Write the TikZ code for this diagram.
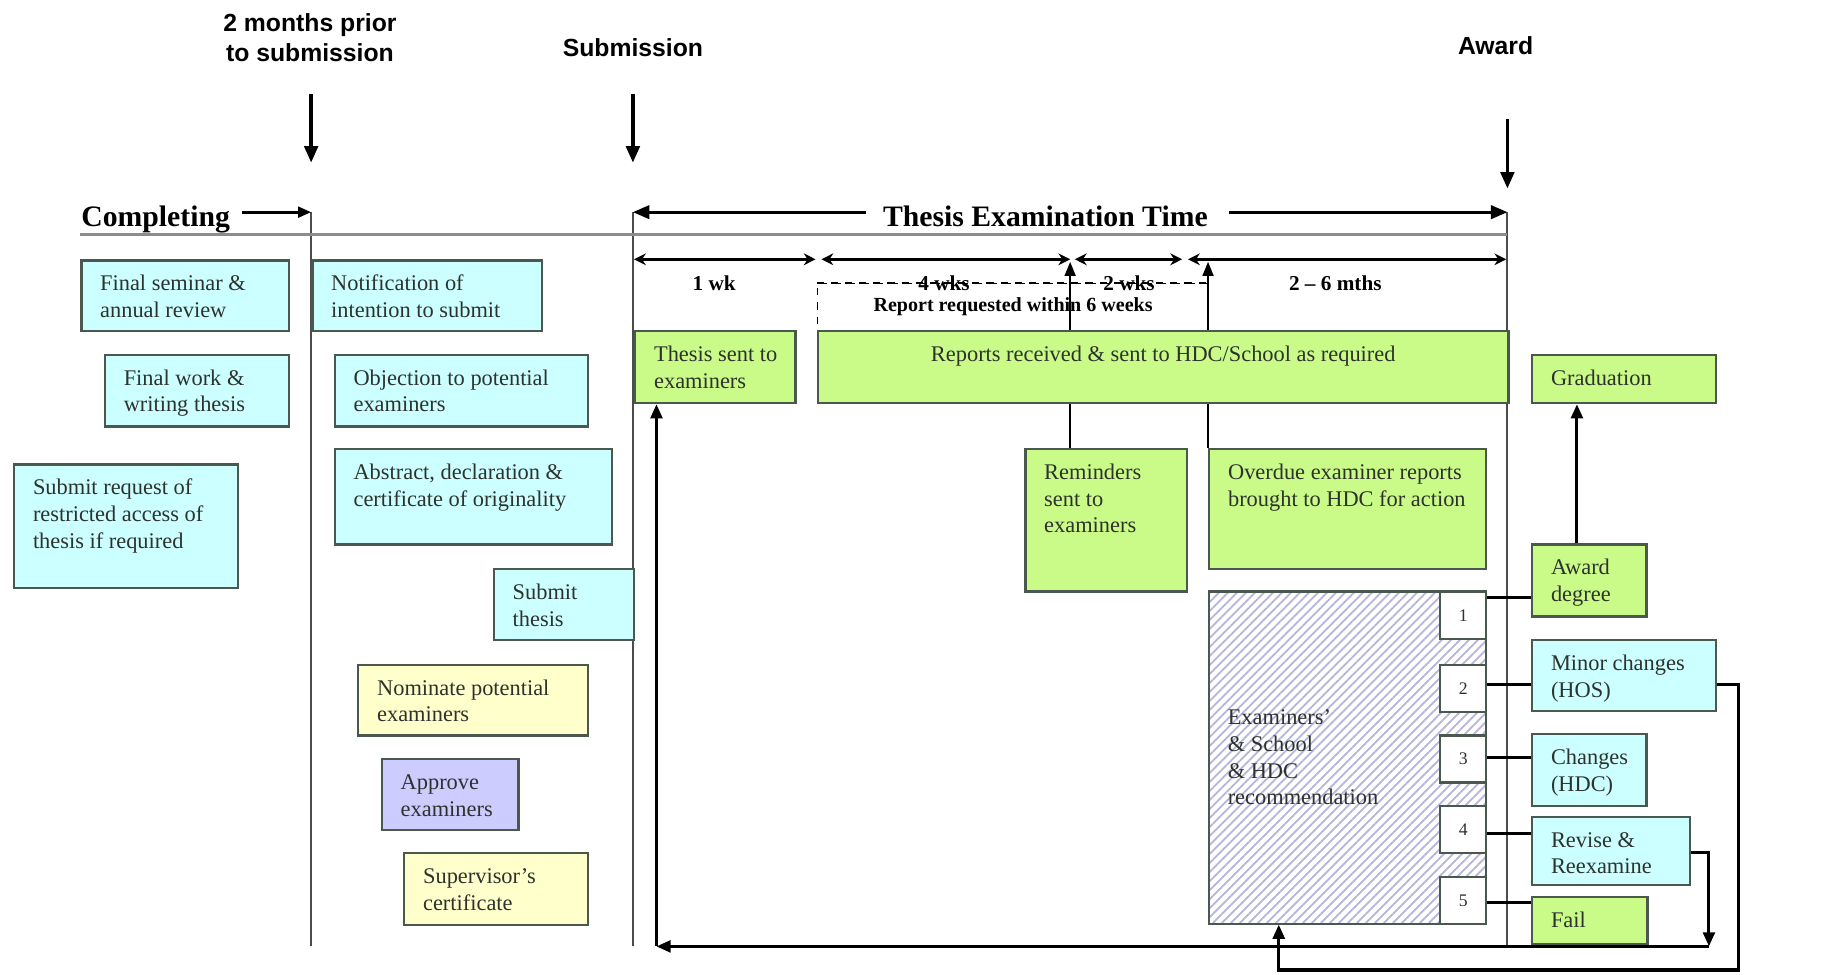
\documentclass[tikz,border=0pt]{standalone}
\usepackage{fontspec}
\setmainfont{Liberation Serif}
\newfontfamily\hdfont{Liberation Sans}
\usetikzlibrary{arrows.meta,patterns.meta}
\newdimen\myu \myu=0.5pt
\newcommand{\bt}[3]{\parbox[c][#2\myu][t]{#1\myu}{\raggedright\leftskip=8pt\relax\vspace*{5pt}\strut #3\par}}
\newcommand{\btc}[3]{\parbox[c][#2\myu][t]{#1\myu}{\centering\vspace*{5pt}\strut #3\par}}
\definecolor{cyanf}{RGB}{204,255,255}
\definecolor{greenf}{RGB}{202,250,135}
\definecolor{yellowf}{RGB}{255,255,204}
\definecolor{lavf}{RGB}{204,204,255}
\definecolor{edge}{RGB}{75,88,78}
\definecolor{hatchc}{RGB}{180,180,220}
\definecolor{txt}{RGB}{45,50,45}
\tikzset{
  bx/.style={draw=edge, line width=1pt, inner sep=0pt, anchor=north west, text=txt,
    font=\fontsize{9.5}{11.3}\selectfont},
  cy/.style={bx, fill=cyanf},
  gr/.style={bx, fill=greenf},
  ye/.style={bx, fill=yellowf},
  lv/.style={bx, fill=lavf},
  nb/.style={draw=edge, line width=1pt, fill=white, inner sep=0pt, anchor=north west,
    minimum width=19.5pt, minimum height=20pt, font=\fontsize{7.5}{9}\selectfont, text=txt},
  hd/.style={font=\hdfont\bfseries\fontsize{10.5}{12.5}\selectfont, align=center},
  ttl/.style={font=\bfseries\fontsize{12.6}{14}\selectfont},
  dur/.style={font=\bfseries\fontsize{9}{11}\selectfont, inner sep=1pt},
  vline/.style={line width=0.9pt, draw=black!70},
  bigarrow/.style={line width=1.5pt, -{Triangle[width=5.7pt,length=7pt]}},
  smarrow/.style={line width=1.2pt, -{Triangle[width=4.5pt,length=5.5pt]}},
  durarrow/.style={line width=1.2pt, {Stealth[width=5pt,length=5pt]}-{Stealth[width=5pt,length=5pt]}},
  uparrow/.style={line width=1.1pt, -{Triangle[width=4.5pt,length=6pt]}},
  cn/.style={line width=1.3pt, draw=black},
  lp/.style={line width=1.3pt, draw=black},
  lpa/.style={lp, -{Triangle[width=5pt,length=6pt]}}
}
\begin{document}
\begin{tikzpicture}[x=0.5pt,y=-0.5pt]
\useasboundingbox[fill=white] (0,0) rectangle (1568,827);

% coordinates
\coordinate (a2mS) at (264,80);  \coordinate (a2mE) at (264,138);
\coordinate (asubS) at (537,80); \coordinate (asubE) at (537,138);
\coordinate (awS) at (1279,101); \coordinate (awE) at (1279,160);
\coordinate (v1t) at (264,180);  \coordinate (v1b) at (264,803);
\coordinate (v2t) at (537,180);  \coordinate (v2b) at (537,803);
\coordinate (v3t) at (1279,180); \coordinate (v3b) at (1279,803);
\coordinate (hl) at (68,199);    \coordinate (hr) at (1279,199);
\coordinate (compA) at (205,180);
\coordinate (tetL) at (735,180); \coordinate (tetR) at (1043,180);
\coordinate (d0) at (538,220); \coordinate (d1) at (692,220);
\coordinate (d2) at (697,220); \coordinate (d3) at (908,220);
\coordinate (d4) at (912,220); \coordinate (d5) at (1003,220);
\coordinate (d6) at (1008,220); \coordinate (d7) at (1278,220);
\coordinate (up1) at (908,222); \coordinate (up2) at (1025,222);

% headers
\node[hd] (h2m) at (263,32) {2 months prior\\to submission};
\node[hd] (hsub) at (537,40) {Submission};
\node[hd] (haw) at (1269,39) {Award};
\draw[bigarrow] (a2mS) -- (a2mE);
\draw[bigarrow] (asubS) -- (asubE);
\draw[bigarrow] (awS) -- (awE);

% timeline frame
\draw[vline] (v1t) -- (v1b);
\draw[vline] (v2t) -- (v2b);
\draw[vline] (v3t) -- (v3b);
\draw[line width=1.6pt, draw=black!45] (hl) -- (hr);

\node[ttl, anchor=base west] (comp) at (62,192) {Completing};
\draw[smarrow] (compA) -- (v1t);
\node[ttl, anchor=base] (tet) at (887,192) {Thesis Examination Time};
\draw[bigarrow, line width=1.2pt] (tetL) -- (v2t);
\draw[bigarrow, line width=1.2pt] (tetR) -- (v3t);

% durations
\draw[durarrow] (d0) -- (d1);
\draw[durarrow] (d2) -- (d3);
\draw[durarrow] (d4) -- (d5);
\draw[durarrow] (d6) -- (d7);
\node[draw=black, dashed, line width=0.6pt, anchor=north west, minimum width=166pt,
  minimum height=20pt, inner sep=0pt, font=\bfseries\fontsize{8.5}{10}\selectfont] (req)
  at (693,240) {Report requested within 6 weeks};
\node[dur] (w1) at (606,240) {1 wk};
\node[dur] (w4) at (801,240) {4 wks};
\node[dur] (w2) at (958,240) {2 wks};
\node[dur] (w26) at (1133,240) {2 -- 6 mths};
\draw[dashed, line width=0.6pt] (req.north west) -- (req.north east);

% left column boxes
\node[cy] (fsem) at (68,220) {\bt{176}{60}{Final seminar \&\\annual review}};
\node[cy] (fwork) at (88,300) {\bt{156}{61}{Final work \&\\writing thesis}};
\node[cy] (restr) at (11,393) {\bt{190}{105}{Submit request of\\restricted access of\\thesis if required}};
\node[cy] (notif) at (264,220) {\bt{195}{60}{Notification of\\intention to submit}};
\node[cy] (obj) at (283,300) {\bt{215}{61}{Objection to potential\\examiners}};
\node[cy] (abs) at (283,380) {\bt{235}{81}{Abstract, declaration \&\\certificate of originality}};
\node[cy] (subth) at (418,482) {\bt{119}{60}{Submit\\thesis}};
\node[ye] (nom) at (303,563) {\bt{195}{60}{Nominate potential\\examiners}};
\node[lv] (appr) at (323,643) {\bt{116}{60}{Approve\\examiners}};
\node[ye] (supv) at (342,723) {\bt{156}{61}{Supervisor's\\certificate}};

% examination boxes
\node[bx, draw=none, minimum width=137pt, minimum height=60pt] (remA) at (869,380) {};
\node[bx, draw=none, minimum width=117.5pt, minimum height=51pt] (overA) at (1025,380) {};
\draw[uparrow] (remA.north -| up1) -- (up1);
\draw[uparrow] (overA.north -| up2) -- (up2);
\node[gr] (sent) at (538,280) {\bt{136}{61}{Thesis sent to\\examiners}};
\node[gr] (recv) at (693,280) {\btc{586}{61}{Reports received \& sent to HDC/School as required}};
\node[gr] (rem) at (869,380) {\bt{137}{121}{Reminders\\sent to\\examiners}};
\node[gr] (over) at (1025,380) {\bt{235}{102}{Overdue examiner reports\\brought to HDC for action}};

% recommendation
\node[draw=edge, line width=1pt, inner sep=0pt, anchor=north west, preaction={fill=white},
  pattern={Lines[angle=45,distance=2.7pt,line width=0.75pt]}, pattern color=hatchc,
  font=\fontsize{9.5}{11.3}\selectfont, text=txt] (rec) at (1025,501)
  {\parbox[c][282\myu][c]{235\myu}{\raggedright\leftskip=8pt\relax Examiners'\\\& School\\\& HDC\\recommendation\par}};
\node[nb] (n1) at (1221,501) {1};
\node[nb] (n2) at (1221,563) {2};
\node[nb] (n3) at (1221,623) {3};
\node[nb] (n4) at (1221,683) {4};
\node[nb] (n5) at (1221,743) {5};

% outcomes
\node[gr] (grad) at (1299,300) {\bt{156}{41}{Graduation}};
\node[gr] (award) at (1299,461) {\bt{97}{61}{Award\\degree}};
\node[cy] (minor) at (1299,542) {\bt{156}{60}{Minor changes\\(HOS)}};
\node[cy] (chg) at (1299,622) {\bt{97}{61}{Changes\\(HDC)}};
\node[cy] (rev) at (1299,692) {\bt{134}{58}{Revise \&\\Reexamine}};
\node[gr] (fail) at (1299,760) {\bt{98}{40}{Fail}};

\draw[cn] (n1.east |- 0,507) -- (award.west |- 0,507);
\draw[cn] (n2.east |- 0,581) -- (minor.west |- 0,581);
\draw[cn] (n3.east |- 0,643) -- (chg.west |- 0,643);
\draw[cn] (n4.east |- 0,707) -- (rev.west |- 0,707);
\draw[cn] (n5.east |- 0,766) -- (fail.west |- 0,766);

\coordinate (ag) at (1338,0);
\draw[lpa] (award.north -| ag) -- (grad.south -| ag);

% loops
\coordinate (mc1) at (1475,581); \coordinate (mc2) at (1475,823); \coordinate (mc3) at (1085,823);
\draw[lpa] (minor.east |- mc1) -- (mc1) -- (mc2) -- (mc3) -- (rec.south -| mc3);
\coordinate (rv1) at (1450,723); \coordinate (rv2) at (1450,803); \coordinate (rv3) at (557,803);
\draw[lpa] (rev.east |- rv1) -- (rv1) -- (rv2);
\draw[lpa] (rv2) -- (rv3);
\draw[lpa] (rv3) -- (sent.south -| rv3);
\end{tikzpicture}
\end{document}
